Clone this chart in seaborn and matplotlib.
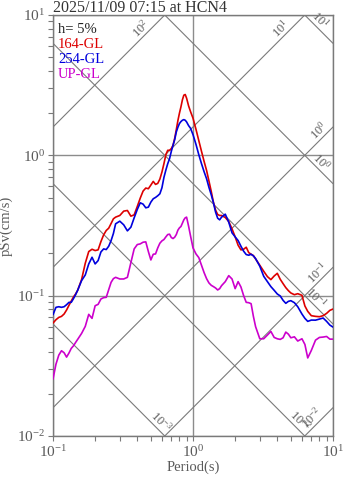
import numpy as np
import matplotlib
matplotlib.use('Agg')
import matplotlib.pyplot as plt
import seaborn as sns

# ─── Data: pseudo velocity response spectra (h = 5%) ────────────────────────
periods = [0.100, 0.105, 0.11, 0.115, 0.12, 0.125, 0.13, 0.135, 0.14, 0.145,
           0.15, 0.16, 0.17, 0.18, 0.19, 0.20, 0.21, 0.22, 0.23, 0.24,
           0.25, 0.26, 0.27, 0.28, 0.30, 0.32, 0.34, 0.36, 0.38, 0.40,
           0.42, 0.44, 0.46, 0.48, 0.50, 0.52, 0.54, 0.56, 0.58, 0.60,
           0.62, 0.64, 0.66, 0.68, 0.70, 0.72, 0.74, 0.76, 0.78, 0.80,
           0.82, 0.84, 0.86, 0.88, 0.90, 0.93, 0.96, 1.00, 1.05, 1.10,
           1.15, 1.20, 1.25, 1.30, 1.35, 1.40, 1.45, 1.50, 1.55, 1.60,
           1.70, 1.80, 1.90, 2.0, 2.1, 2.2, 2.3, 2.4, 2.5, 2.6,
           2.7, 2.8, 3.0, 3.2, 3.4, 3.6, 3.8, 4.0, 4.2, 4.4,
           4.6, 4.8, 5.0, 5.3, 5.6, 6.0, 6.3, 6.6, 7.0, 7.5,
           8.0, 8.5, 9.0, 9.5, 10.0]

sv_164 = [0.0638, 0.0674, 0.0700, 0.0712, 0.0740, 0.0790, 0.0853, 0.0916, 0.0978, 0.1028,
          0.1092, 0.1301, 0.1701, 0.2062, 0.2142, 0.2096, 0.2120, 0.2430, 0.2713, 0.2913,
          0.3026, 0.3268, 0.3528, 0.3627, 0.3727, 0.4003, 0.4046, 0.3686, 0.3767, 0.4322,
          0.4957, 0.5563, 0.5845, 0.5781, 0.6139, 0.6520, 0.6206, 0.6310, 0.6775, 0.7603,
          0.8720, 1.011, 1.086, 1.086, 1.116, 1.179, 1.322, 1.525, 1.768, 1.995,
          2.214, 2.485, 2.683, 2.713, 2.554, 2.251, 2.051, 1.840, 1.534, 1.273,
          1.068, 0.906, 0.781, 0.656, 0.553, 0.4616, 0.4070, 0.3789, 0.3727, 0.3727,
          0.3607, 0.3377, 0.2994, 0.2624, 0.2288, 0.2120, 0.2142, 0.2214, 0.2028, 0.1973,
          0.1931, 0.1827, 0.1647, 0.1492, 0.1367, 0.1301, 0.1381, 0.1443, 0.1308, 0.1218,
          0.1141, 0.1086, 0.1045, 0.1016, 0.1033, 0.1006, 0.0844, 0.0773, 0.0720, 0.0712,
          0.0708, 0.0720, 0.0748, 0.0786, 0.0803]

sv_254 = [0.0732, 0.0826, 0.0834, 0.0826, 0.0834, 0.0862, 0.0896, 0.0896, 0.0952, 0.1016,
          0.1092, 0.1280, 0.1405, 0.1683, 0.1878, 0.1683, 0.1778, 0.2050, 0.2154, 0.2131,
          0.2251, 0.2470, 0.2772, 0.3250, 0.3395, 0.3197, 0.2896, 0.3076, 0.3587, 0.4114,
          0.4589, 0.4491, 0.4228, 0.4274, 0.4642, 0.4903, 0.5012, 0.5151, 0.5323, 0.5875,
          0.6963, 0.7856, 0.8720, 0.9467, 1.068, 1.179, 1.294, 1.468, 1.585, 1.684,
          1.740, 1.778, 1.797, 1.778, 1.730, 1.629, 1.559, 1.405, 1.198, 1.011,
          0.872, 0.7645, 0.6814, 0.5908, 0.5236, 0.4589, 0.3937, 0.3567, 0.3471, 0.3627,
          0.3809, 0.3340, 0.2803, 0.2624, 0.2470, 0.2251, 0.2074, 0.1963, 0.1942, 0.1973,
          0.1920, 0.1837, 0.1621, 0.1374, 0.1259, 0.1160, 0.1092, 0.1028, 0.0995, 0.0926,
          0.0882, 0.0911, 0.0921, 0.0891, 0.0834, 0.0740, 0.0689, 0.0656, 0.0670, 0.0669,
          0.0681, 0.0693, 0.0656, 0.0617, 0.0597]

sv_up = [0.0255, 0.0325, 0.0377, 0.0405, 0.0392, 0.0365, 0.0390, 0.0421, 0.0439, 0.0464,
         0.0488, 0.0538, 0.0604, 0.0736, 0.0689, 0.0848, 0.0867, 0.0947, 0.0968, 0.0973,
         0.1104, 0.1245, 0.1322, 0.1351, 0.1315, 0.1315, 0.1351, 0.1720, 0.2154, 0.2313,
         0.2339, 0.2404, 0.2417, 0.2062, 0.1797, 0.1973, 0.1984, 0.2190, 0.2365, 0.2458,
         0.2512, 0.2624, 0.2727, 0.2742, 0.2596, 0.2553, 0.2610, 0.2727, 0.2929, 0.3043,
         0.3110, 0.3286, 0.3471, 0.3587, 0.3627, 0.3128, 0.2668, 0.2190, 0.1984, 0.1867,
         0.1647, 0.1460, 0.1322, 0.1232, 0.1185, 0.1160, 0.1134, 0.1098, 0.1122, 0.1179,
         0.1259, 0.1389, 0.1315, 0.1122, 0.1259, 0.1153, 0.1000, 0.0896, 0.0891, 0.0877,
         0.0712, 0.0601, 0.0493, 0.0493, 0.0524, 0.0556, 0.0504, 0.0493, 0.0488, 0.0501,
         0.0550, 0.0532, 0.0501, 0.0509, 0.0475, 0.0493, 0.0449, 0.0360, 0.0407, 0.0482,
         0.0504, 0.0507, 0.0512, 0.0490, 0.0490]

series_names  = ['164-GL', '254-GL', 'UP-GL']
series_colors = ['#dd0000', '#0000dd', '#cc00cc']

# tripartite guide lines: displacement (cm) and acceleration (cm/s^2) exponents
disp_exps  = [1, 0, -1, -2, -3]
accel_exps = [2, 1, 0, -1, -2]
# period where each guide label sits (layout only)
disp_label_T  = [7.4, 7.6, 7.0, 5.3, 0.54]
accel_label_T = [0.46, 4.6, 8.6, 8.4, 7.7]

title = '2025/11/09 07:15 at HCN4'

# ─── Style ──────────────────────────────────────────────────────────────────
sns.set_style('white')
plt.rcParams['font.family'] = ['Liberation Serif', 'DejaVu Serif']
plt.rcParams['mathtext.fontset'] = 'custom'
plt.rcParams['mathtext.rm'] = 'Liberation Serif'

GRAY_TXT  = '#5a5a5a'
GRAY_LINE = '#7a7a7a'

fig = plt.figure(figsize=(3.47, 4.78), dpi=100)
ax = fig.add_axes([53 / 347, 1 - 436 / 478, 280 / 347, 421 / 478])
ax.set_xscale('log')
ax.set_yscale('log')
ax.set_xlim(0.1, 10)
ax.set_ylim(0.01, 10)

# ─── Guide lines ────────────────────────────────────────────────────────────
T_edges = np.array([0.1, 10.0])
for k, tl in zip(disp_exps, disp_label_T):
    D = 10.0 ** k
    ax.plot(T_edges, 2 * np.pi * D / T_edges, color=GRAY_LINE, lw=0.8, zorder=1)
    ax.text(tl, 2 * np.pi * D / tl, f'$\\mathdefault{{10^{{{k}}}}}$',
            rotation=-45, rotation_mode='anchor', ha='center', va='bottom',
            fontsize=9, color=GRAY_TXT, zorder=2)
for k, tl in zip(accel_exps, accel_label_T):
    A = 10.0 ** k
    ax.plot(T_edges, A * T_edges / (2 * np.pi), color=GRAY_LINE, lw=0.8, zorder=1)
    ax.text(tl, A * tl / (2 * np.pi), f'$\\mathdefault{{10^{{{k}}}}}$',
            rotation=45, rotation_mode='anchor', ha='center', va='bottom',
            fontsize=9, color=GRAY_TXT, zorder=2)

ax.grid(which='major', color='#8c8c8c', lw=1.0, zorder=0)
ax.grid(which='minor', visible=False)

# ─── Spectra ────────────────────────────────────────────────────────────────
for sv, c in zip([sv_164, sv_254, sv_up], series_colors):
    sns.lineplot(x=periods, y=sv, color=c, lw=1.2, ax=ax,
                 estimator=None, sort=False, zorder=3)

# ─── Annotation block ───────────────────────────────────────────────────────
ax.text(0.018, 0.966, 'h= 5%', transform=ax.transAxes, fontsize=10.5,
        color='#222222', va='center', ha='left')
for i, (name, c) in enumerate(zip(series_names, series_colors)):
    ax.text(0.018, 0.930 - i * 0.0355, name, transform=ax.transAxes,
            fontsize=10.5, color=c, va='center', ha='left')

fig.text(53 / 347, 1 - 12 / 478, title, fontsize=11.5, color='#333333',
         ha='left', va='baseline')

# ─── Axes cosmetics ─────────────────────────────────────────────────────────
for s in ax.spines.values():
    s.set_color(GRAY_LINE)
    s.set_linewidth(1.0)
ax.tick_params(which='both', direction='out', color=GRAY_LINE, width=0.8,
               labelcolor=GRAY_TXT, labelsize=11, bottom=True, left=True,
               top=False, right=False)
ax.tick_params(which='major', length=3.5, pad=2)
ax.tick_params(which='minor', length=3.5)
ax.set_xlabel('Period(s)', fontsize=10.5, color=GRAY_TXT, labelpad=1)
ax.set_ylabel('pSv(cm/s)', fontsize=10.5, color=GRAY_TXT, labelpad=3)

plt.savefig('out.png', dpi=100)
plt.close()
